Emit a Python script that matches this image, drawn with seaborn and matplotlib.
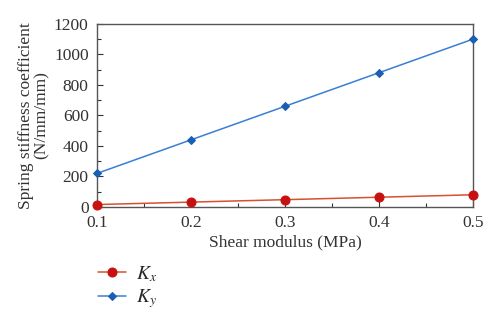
import matplotlib
matplotlib.use("Agg")
import matplotlib.pyplot as plt
import seaborn as sns
import pandas as pd
from matplotlib.ticker import MultipleLocator

shear_modulus = [0.1, 0.2, 0.3, 0.4, 0.5]
kx_values = [16, 32, 48, 64, 80]
ky_values = [220, 440, 660, 880, 1100]
series_labels = [r"$K_x$", r"$K_y$"]

df = pd.DataFrame({
    "G": shear_modulus * 2,
    "K": kx_values + ky_values,
    "series": [series_labels[0]] * 5 + [series_labels[1]] * 5,
})

sns.set_theme(style="white")
plt.rcParams["font.family"] = ["Liberation Serif", "DejaVu Serif"]
plt.rcParams["mathtext.fontset"] = "stix"

fig = plt.figure(figsize=(5.0, 3.27), dpi=100)
ax = fig.add_axes([0.194, 0.367, 0.752, 0.560])

line_colors = ["#d9502f", "#3a7fd5"]
marker_colors = ["#c81010", "#1a5fb4"]
markers = ["o", "D"]
sizes = [6.5, 4.5]
for i, lab in enumerate(series_labels):
    sub = df[df["series"] == lab]
    sns.lineplot(data=sub, x="G", y="K", ax=ax, color=line_colors[i],
                 marker=markers[i], markersize=sizes[i],
                 markerfacecolor=marker_colors[i], markeredgecolor=marker_colors[i],
                 linewidth=1.1, label=lab, clip_on=False, zorder=3)

ax.set_xlim(0.1, 0.5)
ax.set_ylim(0, 1200)
ax.xaxis.set_minor_locator(MultipleLocator(0.05))
ax.yaxis.set_major_locator(MultipleLocator(200))
ax.yaxis.set_minor_locator(MultipleLocator(100))
ax.set_xticks(shear_modulus)
ax.set_xticklabels(["0.1", "0.2", "0.3", "0.4", "0.5"])
ax.tick_params(which="both", direction="in", colors="#333333", labelsize=12.5,
               bottom=True, left=True, top=False, right=False)
ax.tick_params(which="major", length=4, width=0.8, pad=6)
ax.tick_params(which="minor", length=3, width=0.8)
for s in ax.spines.values():
    s.set_color("#555555")
    s.set_linewidth(1.0)

ax.set_xlabel("Shear modulus (MPa)", fontsize=12.5, color="#333333", labelpad=2)
ax.set_ylabel("Spring stiffness coefficient\n(N/mm/mm)", fontsize=12.5,
              color="#333333", labelpad=3, linespacing=1.0)

handles, labels = ax.get_legend_handles_labels()
ax.legend(handles, labels, loc="upper left", bbox_to_anchor=(-0.045, -0.215),
          frameon=False, fontsize=14, handlelength=1.45, labelspacing=0.2,
          handletextpad=0.55)

fig.savefig("out.png", dpi=100)
